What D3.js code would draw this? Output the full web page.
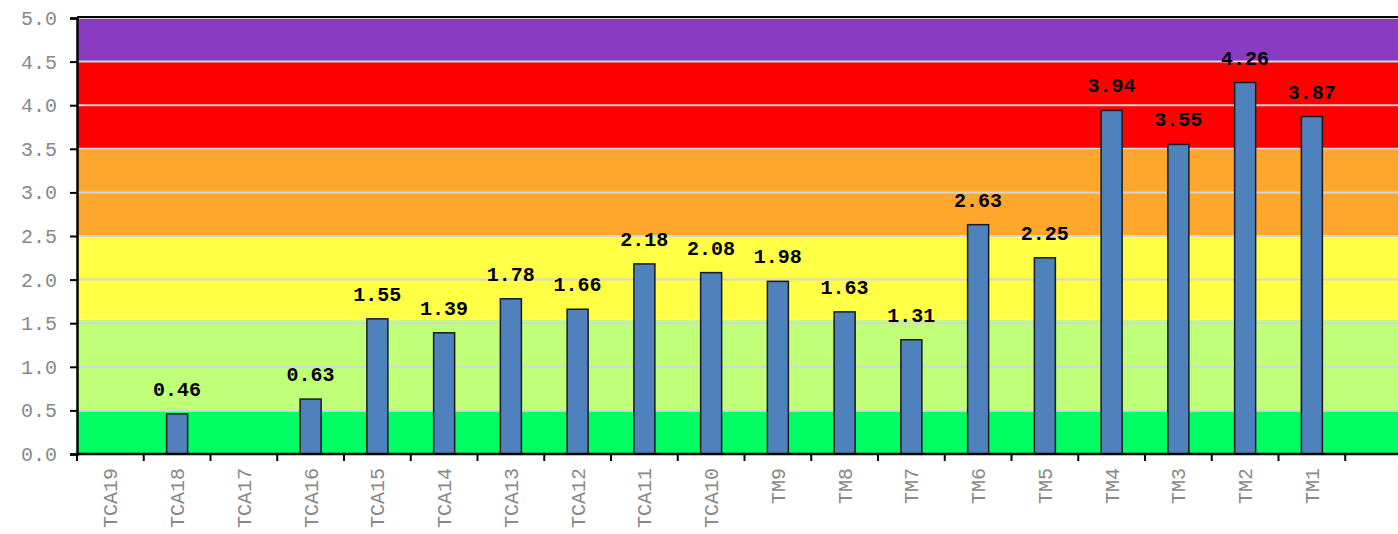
<!DOCTYPE html>
<html><head><meta charset="utf-8">
<script src="https://cdn.jsdelivr.net/npm/d3@7"></script>
<style>body{margin:0;background:#fff;}svg{display:block;}</style>
</head><body>
<svg id="c" width="1398" height="534"></svg>
<script>
const categories = ["TCA19","TCA18","TCA17","TCA16","TCA15","TCA14","TCA13","TCA12","TCA11","TCA10","TM9","TM8","TM7","TM6","TM5","TM4","TM3","TM2","TM1"];
const values = [null,0.46,null,0.63,1.55,1.39,1.78,1.66,2.18,2.08,1.98,1.63,1.31,2.63,2.25,3.94,3.55,4.26,3.87];
const yTicks = [0,0.5,1,1.5,2,2.5,3,3.5,4,4.5,5];
const bandLow = [0,0.49,1.54,2.5,3.49,4.5];
const bandHigh = [0.49,1.54,2.5,3.49,4.5,5];
const bandColors = ["#00ff62","#c0ff78","#ffff45","#ffa62d","#ff0000","#893cc1"];

(function(){
const svg = d3.select("#c");
const mL = 77, mT = 18, mB = 454, mR = 1398;
const bw = 66.75;
const font = "'Courier New', Courier, 'Liberation Mono', monospace";
const x = d3.scaleBand().domain(categories).range([mL, mL + bw*categories.length]).paddingInner(0).paddingOuter(0);
const y = d3.scaleLinear().domain([0,5]).range([mB, mT]);

svg.append("g").selectAll("rect").data(bandLow).join("rect")
  .attr("x", mL).attr("width", mR-mL)
  .attr("y", (d,i)=>y(bandHigh[i])).attr("height",(d,i)=>y(d)-y(bandHigh[i]))
  .attr("fill",(d,i)=>bandColors[i]);

svg.append("g").selectAll("line").data(yTicks.filter(t=>t>0)).join("line")
  .attr("x1", mL).attr("x2", mR).attr("y1", d=>y(d)).attr("y2", d=>y(d))
  .attr("stroke","#d6d6d6").attr("stroke-width",2);

svg.append("line").attr("x1",mL).attr("x2",mR).attr("y1",mT-1).attr("y2",mT-1).attr("stroke","#000").attr("stroke-width",2);

const data = categories.map((c,i)=>({c, v: values[i]})).filter(d=>d.v!=null);
const barW = 21;
svg.append("g").selectAll("rect").data(data).join("rect")
  .attr("x", d=>x(d.c)+x.bandwidth()/2-barW/2).attr("width", barW)
  .attr("y", d=>y(d.v)).attr("height", d=>y(0)-y(d.v))
  .attr("fill","#4f81bd").attr("stroke","#1a1a1a").attr("stroke-width",1.5);

svg.append("g").selectAll("text").data(data).join("text")
  .attr("x", d=>x(d.c)+x.bandwidth()/2).attr("y", d=>y(d.v)-18)
  .attr("text-anchor","middle")
  .style("font-family",font).style("font-weight","bold").style("font-size","20px")
  .attr("fill","#000").text(d=>d.v.toFixed(2));

const yAxis = svg.append("g").attr("transform",`translate(${mL},0)`)
  .call(d3.axisLeft(y).tickValues(yTicks).tickFormat(d3.format(".1f")).tickSize(7).tickPadding(13));
yAxis.select(".domain").attr("stroke","#000").attr("stroke-width",2.5);
yAxis.selectAll(".tick line").attr("stroke","#000").attr("stroke-width",2);
yAxis.selectAll(".tick text").attr("fill","#888")
  .style("font-family",font).style("font-size","20px");

const xAxis = svg.append("g").attr("transform",`translate(0,${mB})`);
xAxis.append("line").attr("x1",mL-1).attr("x2",mR).attr("y1",0).attr("y2",0).attr("stroke","#000").attr("stroke-width",2.5);
const tickPos = d3.range(categories.length+1).map(i=>mL + i*x.bandwidth());
xAxis.selectAll("line.tk").data(tickPos).join("line").attr("class","tk")
  .attr("x1",d=>d).attr("x2",d=>d).attr("y1",0).attr("y2",7).attr("stroke","#000").attr("stroke-width",2);
xAxis.selectAll("text").data(categories).join("text")
  .attr("transform", d=>`translate(${x(d)+x.bandwidth()/2+7},14) rotate(-90)`)
  .attr("text-anchor","end").attr("fill","#888")
  .style("font-family",font).style("font-size","20px")
  .text(d=>d);
})();
</script>
</body></html>
